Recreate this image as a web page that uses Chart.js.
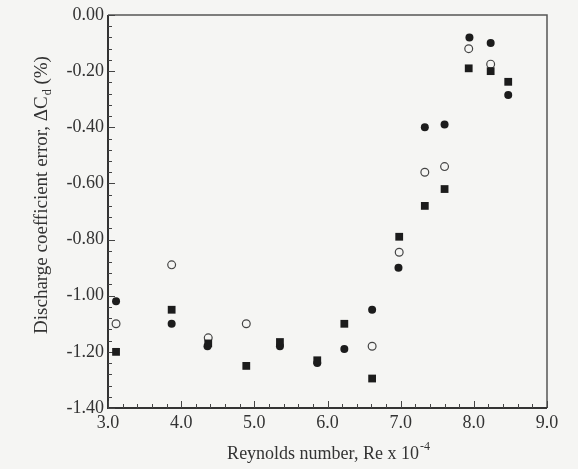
<!DOCTYPE html>
<html><head><meta charset="utf-8">
<script src="https://cdn.jsdelivr.net/npm/chart.js@4/dist/chart.umd.min.js"></script>
<style>html,body{margin:0;padding:0;background:#f5f5f3;}#wrap{width:578px;height:469px;}</style>
</head><body><div id="wrap"><canvas id="c" width="578" height="469"></canvas></div>
<script>
const xTickValues = [3.0, 4.0, 5.0, 6.0, 7.0, 8.0, 9.0];
const yTickValues = [0.00, -0.20, -0.40, -0.60, -0.80, -1.00, -1.20, -1.40];
const xTitle = "Reynolds number, Re x 10";
const xTitleSup = "-4";
const yTitleMain = "Discharge coefficient error, ΔC";
const yTitleSub = "d";
const yTitleEnd = " (%)";

const filledCircleRe = [3.11, 3.87, 4.36, 5.35, 5.86, 6.23, 6.61, 6.97, 7.33, 7.60, 7.94, 8.23, 8.47];
const filledCircleErr = [-1.02, -1.10, -1.18, -1.18, -1.24, -1.19, -1.05, -0.90, -0.40, -0.39, -0.08, -0.10, -0.285];

const openCircleRe = [3.11, 3.87, 4.37, 4.89, 6.61, 6.98, 7.33, 7.60, 7.93, 8.23];
const openCircleErr = [-1.10, -0.89, -1.15, -1.10, -1.18, -0.845, -0.56, -0.54, -0.12, -0.175];

const squareRe = [3.11, 3.87, 4.37, 4.89, 5.35, 5.86, 6.23, 6.61, 6.98, 7.33, 7.60, 7.93, 8.23, 8.47];
const squareErr = [-1.20, -1.05, -1.17, -1.25, -1.165, -1.23, -1.10, -1.295, -0.79, -0.68, -0.62, -0.19, -0.20, -0.238];

const pts = (xs, ys) => xs.map((x, i) => ({x: x, y: ys[i]}));
const SERIF = "'Liberation Serif', 'DejaVu Serif', serif";
const BG = '#f5f5f3';

const decor = {
  id: 'decor',
  beforeDatasetsDraw(chart) {
    const {ctx, chartArea: a, scales: {x, y}} = chart;
    ctx.save();
    // frame
    ctx.strokeStyle = '#555';
    ctx.lineWidth = 1.5;
    ctx.beginPath();
    ctx.moveTo(a.left, a.top); ctx.lineTo(a.right, a.top); ctx.lineTo(a.right, a.bottom);
    ctx.stroke();
    ctx.strokeStyle = '#333';
    ctx.lineWidth = 2;
    ctx.beginPath();
    ctx.moveTo(a.left, a.top); ctx.lineTo(a.left, a.bottom); ctx.lineTo(a.right, a.bottom);
    ctx.stroke();
    // ticks (inward)
    ctx.lineWidth = 1;
    ctx.strokeStyle = '#444';
    ctx.beginPath();
    for (let i = 0; i <= 30; i++) {
      const v = x.min + i * 0.2;
      const px = Math.round(x.getPixelForValue(v)) + 0.5;
      const len = (i % 5 === 0) ? 7 : 4;
      ctx.moveTo(px, a.bottom); ctx.lineTo(px, a.bottom - len);
    }
    for (let i = 0; i <= 35; i++) {
      const v = y.min + i * 0.04;
      const py = Math.round(y.getPixelForValue(v)) + 0.5;
      const len = (i % 5 === 0) ? 7 : 4;
      ctx.moveTo(a.left, py); ctx.lineTo(a.left + len, py);
    }
    ctx.stroke();
    // x title
    ctx.fillStyle = '#333';
    ctx.font = '18px ' + SERIF;
    ctx.textBaseline = 'alphabetic';
    const w1 = ctx.measureText(xTitle).width;
    ctx.font = '12px ' + SERIF;
    const w2 = ctx.measureText(xTitleSup).width;
    const cx = 328;
    const sx = cx - (w1 + w2) / 2;
    ctx.font = '18px ' + SERIF;
    ctx.textAlign = 'left';
    ctx.fillText(xTitle, sx, 459);
    ctx.font = '12px ' + SERIF;
    ctx.fillText(xTitleSup, sx + w1 + 1, 450);
    // y title
    ctx.save();
    ctx.translate(47, 195);
    ctx.rotate(-Math.PI / 2);
    ctx.font = '19px ' + SERIF;
    const m1 = ctx.measureText(yTitleMain).width;
    ctx.font = '12px ' + SERIF;
    const m2 = ctx.measureText(yTitleSub).width;
    ctx.font = '19px ' + SERIF;
    const m3 = ctx.measureText(yTitleEnd).width;
    let s = -(m1 + m2 + m3 + 1) / 2;
    ctx.fillText(yTitleMain, s, 0);
    ctx.font = '12px ' + SERIF;
    ctx.fillText(yTitleSub, s + m1 + 1, 4);
    ctx.font = '19px ' + SERIF;
    ctx.fillText(yTitleEnd, s + m1 + m2 + 1, 0);
    ctx.restore();
    ctx.restore();
  }
};

new Chart(document.getElementById('c'), {
  type: 'scatter',
  data: {
    datasets: [
      {label: 'Square', data: pts(squareRe, squareErr), pointStyle: 'rect', pointRadius: 5.5, pointHoverRadius: 5.5,
       backgroundColor: '#1c1c1c', borderColor: '#1c1c1c', borderWidth: 0},
      {label: 'Filled circle', data: pts(filledCircleRe, filledCircleErr), pointStyle: 'circle', pointRadius: 4, pointHoverRadius: 4,
       backgroundColor: '#1c1c1c', borderColor: '#1c1c1c', borderWidth: 0},
      {label: 'Open circle', data: pts(openCircleRe, openCircleErr), pointStyle: 'circle', pointRadius: 3.9, pointHoverRadius: 3.9,
       backgroundColor: BG, borderColor: '#444', borderWidth: 1.2}
    ]
  },
  options: {
    responsive: false,
    animation: false,
    events: [],
    layout: {padding: {left: 0, top: 15, right: 31, bottom: 0}},
    plugins: {legend: {display: false}, tooltip: {enabled: false}},
    scales: {
      x: {
        type: 'linear', min: 3, max: 9,
        afterFit(s) { s.height = 61; },
        afterBuildTicks(s) { s.ticks = xTickValues.map(v => ({value: v})); },
        grid: {display: false, drawTicks: false},
        border: {display: false},
        ticks: {padding: 4, color: '#333', font: {family: SERIF, size: 18}, callback: v => Number(v).toFixed(1), maxRotation: 0, autoSkip: false}
      },
      y: {
        type: 'linear', min: -1.4, max: 0,
        afterFit(s) { s.width = 108; },
        afterBuildTicks(s) { s.ticks = yTickValues.map(v => ({value: v})); },
        grid: {display: false, drawTicks: false},
        border: {display: false},
        ticks: {padding: 4, color: '#333', font: {family: SERIF, size: 18}, callback: v => Number(v).toFixed(2), autoSkip: false}
      }
    }
  },
  plugins: [decor]
});
</script>
</body></html>
